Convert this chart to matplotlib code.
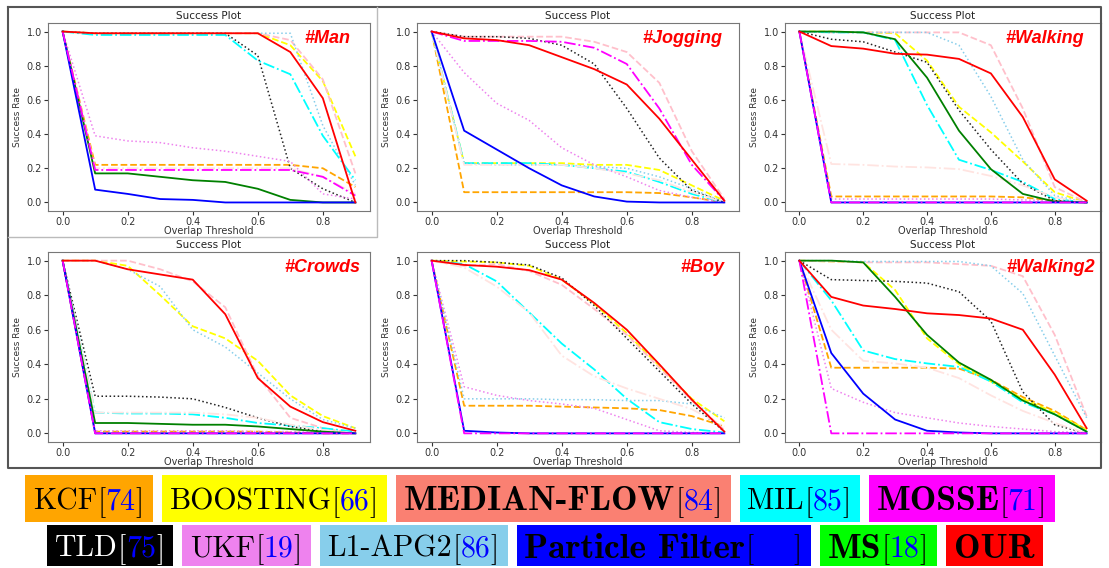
import numpy as np
import matplotlib
matplotlib.use("Agg")
import matplotlib.pyplot as plt
from matplotlib.patches import Rectangle
from matplotlib.lines import Line2D

W, H = 1109, 568
nan = np.nan

thresholds = [0.0, 0.1, 0.2, 0.3, 0.4, 0.5, 0.6, 0.7, 0.8, 0.9]

methods = ["KCF", "BOOSTING", "MEDIAN-FLOW", "MIL", "TLD", "UKF",
           "L1-APG2", "extra", "MS", "Particle Filter", "MOSSE", "OUR"]
colors = ["orange", "yellow", "pink", "cyan", "#222222", "violet",
          "skyblue", "mistyrose", "green", "blue", "magenta", "red"]
styles = ["--", "--", "--", "-.", ":", ":", ":", "-.", "-", "-", "-.", "-"]

sequences = ["#Man", "#Jogging", "#Walking", "#Crowds", "#Boy", "#Walking2"]

man = {
    "KCF":             [1.0, 0.22, 0.22, 0.22, 0.22, 0.22, 0.22, 0.22, 0.20, 0.09],
    "BOOSTING":        [1.0, 0.99, 0.99, 0.99, 0.99, 0.99, 0.99, 0.92, 0.71, 0.27],
    "MEDIAN-FLOW":     [1.0, 0.99, 0.99, 0.99, 0.99, 0.99, 0.99, 0.95, 0.72, 0.17],
    "MIL":             [1.0, 0.98, 0.98, 0.98, 0.98, 0.98, 0.83, 0.75, 0.39, 0.13],
    "MOSSE":           [1.0, 0.19, 0.19, 0.19, 0.19, 0.19, 0.19, 0.19, 0.15, 0.04],
    "TLD":             [1.0, 0.99, 0.99, 0.99, 0.99, 0.99, 0.86, 0.20, 0.08, 0.0],
    "UKF":             [1.0, 0.39, 0.36, 0.35, 0.32, 0.30, 0.27, 0.24, 0.05, 0.02],
    "L1-APG2":         [1.0, 0.99, 0.99, 0.99, 0.99, 0.99, 0.99, 0.99, 0.45, 0.10],
    "Particle Filter": [1.0, 0.075, 0.05, 0.02, 0.015, 0.0, 0.0, 0.0, 0.0, 0.0],
    "MS":              [1.0, 0.17, 0.17, 0.15, 0.13, 0.12, 0.08, 0.015, 0.0, 0.0],
    "OUR":             [1.0, 0.99, 0.99, 0.99, 0.99, 0.99, 0.99, 0.88, 0.61, 0.0],
    "extra":           [1.0, 0.20, 0.20, 0.20, 0.20, 0.20, 0.20, 0.20, 0.15, 0.05],
}
jogging = {
    "KCF":             [1.0, 0.06, 0.06, 0.06, 0.06, 0.06, 0.06, 0.055, 0.03, 0.0],
    "BOOSTING":        [1.0, 0.23, 0.23, 0.23, 0.23, 0.22, 0.22, 0.19, 0.10, 0.01],
    "MEDIAN-FLOW":     [1.0, 0.97, 0.97, 0.97, 0.97, 0.94, 0.88, 0.70, 0.30, 0.02],
    "MIL":             [1.0, 0.23, 0.23, 0.23, 0.22, 0.20, 0.18, 0.12, 0.05, 0.0],
    "MOSSE":           [1.0, 0.945, 0.945, 0.945, 0.94, 0.905, 0.81, 0.55, 0.22, 0.01],
    "TLD":             [1.0, 0.97, 0.97, 0.96, 0.92, 0.81, 0.55, 0.26, 0.07, 0.0],
    "UKF":             [1.0, 0.76, 0.58, 0.48, 0.32, 0.22, 0.15, 0.07, 0.03, 0.0],
    "L1-APG2":         [1.0, 0.23, 0.22, 0.22, 0.22, 0.21, 0.20, 0.15, 0.08, 0.0],
    "Particle Filter": [1.0, 0.42, 0.31, 0.20, 0.10, 0.035, 0.005, 0.0, 0.0, 0.0],
    "MS":              [nan] * 10,
    "OUR":             [1.0, 0.96, 0.95, 0.92, 0.85, 0.78, 0.69, 0.49, 0.25, 0.01],
    "extra":           [1.0, 0.22, 0.22, 0.22, 0.22, 0.20, 0.17, 0.13, 0.06, 0.0],
}
walking = {
    "KCF":             [1.0, 0.035, 0.035, 0.035, 0.035, 0.035, 0.035, 0.03, 0.01, 0.0],
    "BOOSTING":        [1.0, 1.0, 0.995, 0.99, 0.83, 0.56, 0.41, 0.24, 0.06, 0.0],
    "MEDIAN-FLOW":     [1.0, 0.995, 0.995, 0.995, 0.995, 0.995, 0.92, 0.55, 0.09, 0.0],
    "MIL":             [1.0, 0.995, 0.995, 0.95, 0.57, 0.25, 0.19, 0.12, 0.02, 0.0],
    "MOSSE":           [1.0, 0.0, 0.0, 0.0, 0.0, 0.0, 0.0, 0.0, 0.0, 0.0],
    "TLD":             [1.0, 0.955, 0.94, 0.88, 0.82, 0.54, 0.31, 0.11, 0.01, 0.0],
    "UKF":             [1.0, 0.02, 0.02, 0.02, 0.02, 0.02, 0.02, 0.015, 0.01, 0.0],
    "L1-APG2":         [1.0, 0.995, 0.995, 0.995, 0.995, 0.92, 0.62, 0.25, 0.04, 0.0],
    "Particle Filter": [1.0, 0.0, 0.0, 0.0, 0.0, 0.0, 0.0, 0.0, 0.0, 0.0],
    "MS":              [1.0, 1.0, 0.995, 0.955, 0.73, 0.42, 0.195, 0.05, 0.005, 0.0],
    "OUR":             [1.0, 0.915, 0.90, 0.87, 0.865, 0.84, 0.755, 0.50, 0.135, 0.01],
    "extra":           [1.0, 0.225, 0.22, 0.21, 0.205, 0.195, 0.155, 0.10, 0.03, 0.0],
}
crowds = {
    "KCF":             [1.0, 0.01, 0.01, 0.01, 0.01, 0.01, 0.01, 0.005, 0.0, 0.0],
    "BOOSTING":        [1.0, 1.0, 0.97, 0.80, 0.62, 0.55, 0.42, 0.22, 0.10, 0.03],
    "MEDIAN-FLOW":     [1.0, 1.0, 1.0, 0.95, 0.88, 0.73, 0.33, 0.09, 0.03, 0.0],
    "MIL":             [1.0, 0.12, 0.115, 0.115, 0.11, 0.09, 0.06, 0.045, 0.03, 0.01],
    "MOSSE":           [1.0, 0.0, 0.0, 0.0, 0.0, 0.0, 0.0, 0.0, 0.0, 0.0],
    "TLD":             [1.0, 0.215, 0.215, 0.21, 0.20, 0.15, 0.09, 0.04, 0.01, 0.0],
    "UKF":             [1.0, 0.015, 0.015, 0.015, 0.015, 0.015, 0.01, 0.01, 0.005, 0.0],
    "L1-APG2":         [1.0, 1.0, 0.95, 0.85, 0.60, 0.50, 0.35, 0.20, 0.08, 0.03],
    "Particle Filter": [1.0, 0.0, 0.0, 0.0, 0.0, 0.0, 0.0, 0.0, 0.0, 0.0],
    "MS":              [1.0, 0.06, 0.06, 0.055, 0.05, 0.05, 0.04, 0.025, 0.01, 0.0],
    "OUR":             [1.0, 1.0, 0.95, 0.92, 0.89, 0.69, 0.32, 0.155, 0.065, 0.015],
    "extra":           [1.0, 0.12, 0.12, 0.12, 0.12, 0.11, 0.09, 0.05, 0.02, 0.0],
}
boy = {
    "KCF":             [1.0, 0.16, 0.16, 0.16, 0.155, 0.15, 0.145, 0.135, 0.10, 0.04],
    "BOOSTING":        [1.0, 0.995, 0.99, 0.97, 0.89, 0.75, 0.58, 0.39, 0.20, 0.07],
    "MEDIAN-FLOW":     [1.0, 0.97, 0.98, 0.94, 0.86, 0.72, 0.57, 0.38, 0.19, 0.02],
    "MIL":             [1.0, 0.98, 0.88, 0.70, 0.52, 0.37, 0.20, 0.065, 0.025, 0.005],
    "MOSSE":           [1.0, 0.0, 0.0, 0.0, 0.0, 0.0, 0.0, 0.0, 0.0, 0.0],
    "TLD":             [1.0, 1.0, 0.99, 0.975, 0.90, 0.74, 0.55, 0.36, 0.17, 0.01],
    "UKF":             [1.0, 0.27, 0.22, 0.19, 0.17, 0.145, 0.08, 0.015, 0.005, 0.0],
    "L1-APG2":         [1.0, 0.20, 0.20, 0.20, 0.195, 0.195, 0.19, 0.19, 0.17, 0.09],
    "Particle Filter": [1.0, 0.015, 0.005, 0.0, 0.0, 0.0, 0.0, 0.0, 0.0, 0.0],
    "MS":              [nan] * 10,
    "OUR":             [1.0, 0.975, 0.965, 0.945, 0.89, 0.755, 0.60, 0.40, 0.195, 0.01],
    "extra":           [1.0, 0.96, 0.85, 0.70, 0.45, 0.33, 0.26, 0.20, 0.14, 0.04],
}
walking2 = {
    "KCF":             [1.0, 0.38, 0.38, 0.38, 0.38, 0.375, 0.31, 0.21, 0.13, 0.02],
    "BOOSTING":        [1.0, 0.995, 0.99, 0.83, 0.55, 0.40, 0.30, 0.20, 0.12, 0.02],
    "MEDIAN-FLOW":     [1.0, 0.995, 0.99, 0.99, 0.99, 0.98, 0.97, 0.91, 0.57, 0.10],
    "MIL":             [1.0, 0.77, 0.48, 0.43, 0.405, 0.385, 0.30, 0.18, 0.11, 0.01],
    "MOSSE":           [1.0, 0.0, 0.0, 0.0, 0.0, 0.0, 0.0, 0.0, 0.0, 0.0],
    "TLD":             [1.0, 0.89, 0.885, 0.88, 0.87, 0.82, 0.65, 0.24, 0.05, 0.0],
    "UKF":             [1.0, 0.26, 0.18, 0.12, 0.09, 0.06, 0.04, 0.025, 0.01, 0.005],
    "L1-APG2":         [1.0, 1.0, 0.995, 0.995, 0.995, 0.995, 0.97, 0.81, 0.45, 0.09],
    "Particle Filter": [1.0, 0.465, 0.23, 0.08, 0.015, 0.005, 0.0, 0.0, 0.0, 0.0],
    "MS":              [1.0, 1.0, 0.99, 0.79, 0.57, 0.41, 0.31, 0.19, 0.11, 0.01],
    "OUR":             [1.0, 0.79, 0.74, 0.72, 0.695, 0.685, 0.665, 0.60, 0.34, 0.03],
    "extra":           [1.0, 0.60, 0.42, 0.405, 0.38, 0.32, 0.22, 0.13, 0.06, 0.0],
}
panel_data = [man, jogging, walking, crowds, boy, walking2]

# legend rows: (name, citation, box colour, text colour, bold)
legend_row1 = [("KCF", "74", "orange", "black", False),
               ("BOOSTING", "66", "yellow", "black", False),
               ("MEDIAN-FLOW", "84", "salmon", "black", True),
               ("MIL", "85", "cyan", "black", False),
               ("MOSSE", "71", "magenta", "black", True)]
legend_row2 = [("TLD", "75", "black", "white", False),
               ("UKF", "19", "violet", "black", False),
               ("L1-APG2", "86", "skyblue", "black", False),
               ("Particle Filter", "    ", "blue", "black", True),
               ("MS", "18", "lime", "black", True),
               ("OUR", None, "red", "black", True)]

fig = plt.figure(figsize=(W / 100, H / 100), dpi=100)


def frac(x, y):
    return x / W, 1 - y / H


# frames around the panels
fig.add_artist(Line2D([8 / W, 1101 / W, 1101 / W, 8 / W, 8 / W],
                      [1 - 7 / H, 1 - 7 / H, 1 - 468 / H, 1 - 468 / H, 1 - 7 / H],
                      color="#555555", lw=1.5))
fig.add_artist(Line2D([377 / W, 377 / W, 8 / W], [1 - 7 / H, 1 - 237 / H, 1 - 237 / H],
                      color="#bbbbbb", lw=1))

lefts = [48, 417, 785]
widths = [322, 322, 316]
tops = [23, 252]
heights = [188, 190]
label_x = [0.94, 0.947, 0.947, 0.97, 0.955, 0.98]

for i, data in enumerate(panel_data):
    r, c = divmod(i, 3)
    ax = fig.add_axes([lefts[c] / W, 1 - (tops[r] + heights[r]) / H,
                       widths[c] / W, heights[r] / H])
    for m, col, ls in zip(methods, colors, styles):
        ax.plot(thresholds, data[m], color=col, linestyle=ls,
                lw=1.1 if ls == ":" else 1.3)
    ax.set_title("Success Plot", fontsize=7.5, pad=3, color="#222222")
    ax.set_xlabel("Overlap Threshold", fontsize=7, labelpad=-1, color="#333333")
    ax.set_ylabel("Success Rate", fontsize=6.5, labelpad=3, color="#333333")
    ax.set_xticks([0.0, 0.2, 0.4, 0.6, 0.8])
    ax.set_yticks([0.0, 0.2, 0.4, 0.6, 0.8, 1.0])
    ax.tick_params(labelsize=7, length=3, pad=1.5, colors="#333333")
    for s in ax.spines.values():
        s.set_color("#777777")
    ax.text(label_x[i], 0.92, sequences[i], transform=ax.transAxes,
            ha="right", va="center", color="red", fontsize=13,
            family="Liberation Sans", weight="bold", style="italic")

# legend boxes drawn as coloured labels
fig.canvas.draw()
renderer = fig.canvas.get_renderer()


def draw_row(items, x0, y_top, y_bot, fs, fs_bold):
    x = x0
    yc = 1 - (y_top + y_bot) / 2 / H
    for name, cite, box, tcol, bold in items:
        start = x + 8
        pieces = [(name, tcol, "cmb10" if bold else "cmr10", fs_bold if bold else fs)]
        if cite is not None:
            pieces += [("[", tcol, "cmr10", fs), (cite, "blue", "cmr10", fs),
                       ("]", tcol, "cmr10", fs)]
        cx = start
        for txt, col, fam, size in pieces:
            t = fig.text(cx / W, yc, txt, color=col, fontsize=size,
                         family=[fam, "DejaVu Serif"], ha="left", va="center_baseline",
                         zorder=3)
            bb = t.get_window_extent(renderer)
            cx += bb.width
        end = cx + 9
        fig.add_artist(Rectangle(frac(x, y_bot), (end - x) / W, (y_bot - y_top) / H,
                                 transform=fig.transFigure, facecolor=box,
                                 edgecolor="none", zorder=1))
        x = end + 9


draw_row(legend_row1, 25, 475, 522, 21.5, 25.5)
draw_row(legend_row2, 47, 525, 566, 21.5, 25.5)

fig.savefig("out.png", dpi=100)
